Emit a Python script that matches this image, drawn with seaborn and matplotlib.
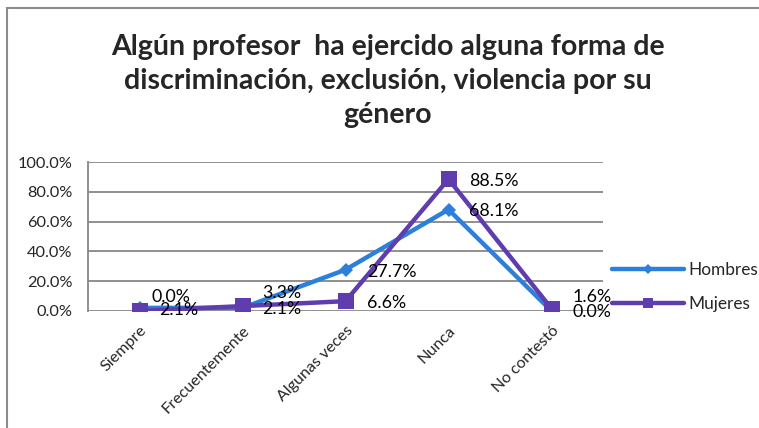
import matplotlib
matplotlib.use('Agg')
import matplotlib.pyplot as plt
import matplotlib.patches as patches
from matplotlib.lines import Line2D
import pandas as pd
import seaborn as sns

# data
categorias = ['Siempre', 'Frecuentemente', 'Algunas veces', 'Nunca', 'No contestó']
hombres = [2.1, 2.1, 27.7, 68.1, 0.0]
mujeres = [0.0, 3.3, 6.6, 88.5, 1.6]
series = ['Hombres', 'Mujeres']
titulo = 'Algún profesor  ha ejercido alguna forma de\ndiscriminación, exclusión, violencia por su\ngénero'

colores = {'Hombres': '#2C7FDA', 'Mujeres': '#5F3DAF'}
marcadores = {'Hombres': 'D', 'Mujeres': 's'}
tam_marc = {'Hombres': 7, 'Mujeres': 12}

# label offsets in pixels (dx, dy) so they sit like the original
offs = {
    'Hombres': [(20, -2), (20, -1), (22, -2), (21, -1), (21, -1)],
    'Mujeres': [(12, 14), (20, 13), (22, -2), (21, -2), (21, 12)],
}

df = pd.DataFrame({'categoria': categorias * 2,
                   'valor': hombres + mujeres,
                   'serie': ['Hombres'] * 5 + ['Mujeres'] * 5})

sns.set_style('white')
plt.rcParams['font.family'] = ['Lato', 'DejaVu Sans']

W, H = 759, 428
fig = plt.figure(figsize=(W / 100, H / 100), dpi=100)
ax = fig.add_axes([88 / W, 1 - 311 / H, 515 / W, 149 / H])

for s in series:
    d = df[df['serie'] == s]
    sns.lineplot(data=d, x='categoria', y='valor', color=colores[s], marker=marcadores[s],
                 markersize=tam_marc[s], markeredgewidth=0, linewidth=3.2, ax=ax,
                 sort=False, legend=False)
    for i, (c, v) in enumerate(zip(d['categoria'], d['valor'])):
        dx, dy = offs[s][i]
        ax.annotate(f'{v:.1f}%', xy=(i, v), xytext=(dx, dy), textcoords='offset pixels',
                    ha='left', va='center', fontsize=12.8, color='black')

ax.set_xlim(-0.5, 4.5)
ax.set_ylim(0, 100)
ax.set_yticks(range(0, 101, 20))
ax.set_yticklabels([f'{t:.1f}%' for t in range(0, 101, 20)], fontsize=11.8)
ax.set_xticks(range(5))
ax.set_xticklabels(categorias, rotation=45, ha='right', rotation_mode='anchor', fontsize=11.6)
ax.tick_params(axis='y', length=0, pad=11)
ax.tick_params(axis='x', length=0, pad=9)
ax.set_xlabel('')
ax.set_ylabel('')
ax.grid(axis='y', color='#878787', linewidth=1.3)
ax.set_axisbelow(True)
for sp in ['top', 'right', 'bottom']:
    ax.spines[sp].set_visible(False)
ax.spines['left'].set_color('#878787')
ax.spines['left'].set_linewidth(1.3)

handles = [Line2D([], [], color=colores['Hombres'], marker='D', markersize=5, markeredgewidth=0, linewidth=3.2),
           Line2D([], [], color=colores['Mujeres'], marker='s', markersize=7, markeredgewidth=0, linewidth=3.2)]
fig.legend(handles, series, loc='center left', bbox_to_anchor=(596 / W, 1 - 287 / H),
           frameon=False, fontsize=12.4, handlelength=4.2, handletextpad=0.25, labelspacing=1.1)

fig.text(388 / W, 1 - 81 / H, titulo, ha='center', va='center', fontsize=20.5, fontweight='bold',
         linespacing=1.38)

# outer chart frame
fig.patches.append(patches.Rectangle((7 / W, -0.1), 1.2, 1 - 8 / H + 0.1, transform=fig.transFigure,
                                     fill=False, edgecolor='#8C8C8C', linewidth=1.5))

fig.savefig('out.png', dpi=100)
